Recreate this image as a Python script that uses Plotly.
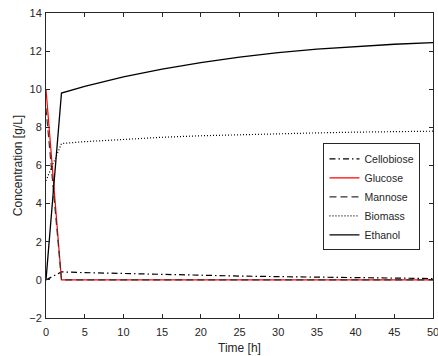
import plotly.graph_objects as go

time_h = [0, 2, 5, 10, 15, 20, 25, 30, 35, 40, 45, 50]
cellobiose = [0, 0.42, 0.38, 0.33, 0.28, 0.24, 0.2, 0.17, 0.14, 0.12, 0.1, 0.07]
glucose = [10, 0, 0, 0, 0, 0, 0, 0, 0, 0, 0, 0]
mannose = [9.0, 0, 0, 0, 0, 0, 0, 0, 0, 0, 0, 0]
biomass = [5.2, 7.15, 7.25, 7.38, 7.48, 7.56, 7.62, 7.67, 7.71, 7.75, 7.78, 7.8]
ethanol = [0, 9.8, 10.15, 10.65, 11.05, 11.4, 11.68, 11.92, 12.1, 12.24, 12.36, 12.45]

y_ticks = list(range(-2, 15, 2))
x_ticks = list(range(0, 51, 5))

axis_col = "#262626"
font = "Liberation Sans, Arial, sans-serif"

fig = go.Figure()
fig.add_trace(go.Scatter(x=time_h, y=cellobiose, name="Cellobiose", mode="lines",
                         line=dict(color="black", width=1.2, dash="6px,3px,1.5px,3px")))
fig.add_trace(go.Scatter(x=time_h, y=glucose, name="Glucose", mode="lines",
                         line=dict(color="red", width=1.2)))
fig.add_trace(go.Scatter(x=time_h, y=mannose, name="Mannose", mode="lines",
                         line=dict(color="#333333", width=1.2, dash="7px,4px")))
fig.add_trace(go.Scatter(x=time_h, y=biomass, name="Biomass", mode="lines",
                         line=dict(color="black", width=1.2, dash="1px,2px")))
fig.add_trace(go.Scatter(x=time_h, y=ethanol, name="Ethanol", mode="lines",
                         line=dict(color="black", width=1.3)))

axis_common = dict(showgrid=False, zeroline=False, showline=True, mirror="ticks",
                   linecolor=axis_col, linewidth=1, ticks="inside", ticklen=4,
                   tickcolor=axis_col, automargin=False, ticklabeloverflow="allow",
                   tickfont=dict(family=font, size=11, color=axis_col))

fig.update_xaxes(range=[0, 50], tickvals=x_ticks, ticklabelstandoff=4,
                 title=dict(text="Time [h]", font=dict(family=font, size=12, color=axis_col), standoff=6),
                 **axis_common)
fig.update_yaxes(range=[-2, 14], tickvals=y_ticks, ticklabelstandoff=1,
                 title=dict(text="Concentration [g/L]", font=dict(family=font, size=12, color=axis_col), standoff=4),
                 **axis_common)

fig.update_layout(
    width=438, height=356,
    margin=dict(l=46, r=5, t=13, b=38),
    paper_bgcolor="white", plot_bgcolor="white",
    showlegend=True,
    legend=dict(x=0.717, y=0.397, xanchor="left", yanchor="middle",
                bgcolor="white", bordercolor=axis_col, borderwidth=1,
                font=dict(family=font, size=10.5, color=axis_col),
                tracegroupgap=0, itemwidth=30),
)

fig.write_html("out.html", config={"displayModeBar": False},
               post_script="document.body.style.margin='0px';")
